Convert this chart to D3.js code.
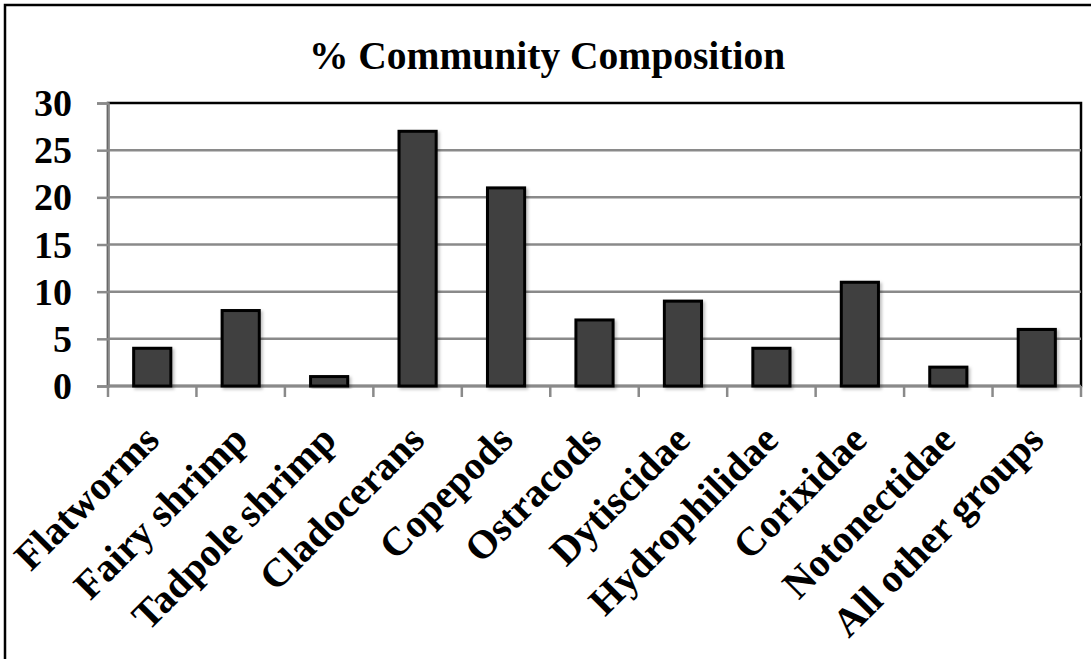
<!DOCTYPE html>
<html>
<head>
<meta charset="utf-8">
<script src="https://cdn.jsdelivr.net/npm/d3@7"></script>
<style>
  body { margin: 0; background: #fff; }
  svg { display: block; }
  text { font-family: "Liberation Serif", "Times New Roman", serif; font-weight: bold; fill: #000; }
</style>
</head>
<body>
<svg id="chart" width="1091" height="659"></svg>
<script>
// Chart data
const categories = ['Flatworms', 'Fairy shrimp', 'Tadpole shrimp', 'Cladocerans', 'Copepods',
  'Ostracods', 'Dytiscidae', 'Hydrophilidae', 'Corixidae', 'Notonectidae', 'All other groups'];
const percents = [4, 8, 1, 27, 21, 7, 9, 4, 11, 2, 6];
const yTicks = [0, 5, 10, 15, 20, 25, 30];
const chartTitle = '% Community Composition';

const width = 1091, height = 659;
const margin = { top: 103, right: 10, bottom: 273, left: 108 };

const svg = d3.select('#chart');

// outer frame (only left/top edges visible in the picture)
svg.append('rect')
  .attr('x', 5).attr('y', 5)
  .attr('width', 1200).attr('height', 800)
  .attr('fill', '#fff')
  .attr('stroke', '#000')
  .attr('stroke-width', 2.5);

const x = d3.scaleBand()
  .domain(categories)
  .range([margin.left, width - margin.right])
  .paddingInner(0.58)
  .paddingOuter(0.29);

const y = d3.scaleLinear()
  .domain([0, 30])
  .range([height - margin.bottom, margin.top]);

// shadow for bars
const defs = svg.append('defs');
defs.append('filter')
  .attr('id', 'shadow')
  .attr('x', '-20%').attr('y', '-20%').attr('width', '150%').attr('height', '150%')
  .append('feDropShadow')
  .attr('dx', 2).attr('dy', 2).attr('stdDeviation', 1.5)
  .attr('flood-color', '#000').attr('flood-opacity', 0.25);

// plot area border (black top/right)
svg.append('rect')
  .attr('x', margin.left).attr('y', margin.top)
  .attr('width', width - margin.right - margin.left)
  .attr('height', y(0) - margin.top)
  .attr('fill', 'none')
  .attr('stroke', '#000')
  .attr('stroke-width', 2.5);

// gridlines
svg.append('g')
  .selectAll('line')
  .data(yTicks.filter(d => d > 0 && d < 30))
  .enter()
  .append('line')
  .attr('x1', margin.left)
  .attr('x2', width - margin.right)
  .attr('y1', d => y(d))
  .attr('y2', d => y(d))
  .attr('stroke', '#8a8a8a')
  .attr('stroke-width', 2.5);

// y axis
const yAxis = svg.append('g')
  .attr('transform', `translate(${margin.left},0)`)
  .call(d3.axisLeft(y).tickValues(yTicks).tickSize(11).tickPadding(25));
yAxis.select('.domain').attr('stroke', '#8a8a8a').attr('stroke-width', 2.5);
yAxis.selectAll('.tick line').attr('stroke', '#8a8a8a').attr('stroke-width', 2.5);
yAxis.selectAll('.tick text')
  .attr('font-size', 38)
  .attr('font-family', '"Liberation Serif", serif')
  .attr('font-weight', 'bold')
  .attr('fill', '#000')
  .attr('dy', '0.33em');

// x axis: ticks at category boundaries
const xAxisY = y(0);
const boundaries = categories.map(c => x(c) - x.step() * x.paddingInner() / 2);
boundaries.push(width - margin.right);
svg.append('line')
  .attr('x1', margin.left).attr('x2', width - margin.right)
  .attr('y1', xAxisY).attr('y2', xAxisY)
  .attr('stroke', '#8a8a8a').attr('stroke-width', 2.5);
svg.append('g')
  .selectAll('line')
  .data(boundaries)
  .enter()
  .append('line')
  .attr('x1', d => d).attr('x2', d => d)
  .attr('y1', xAxisY).attr('y2', xAxisY + 11)
  .attr('stroke', '#8a8a8a')
  .attr('stroke-width', 2.5);

// bars
svg.append('g')
  .selectAll('rect')
  .data(percents)
  .enter()
  .append('rect')
  .attr('x', (d, i) => x(categories[i]))
  .attr('y', d => y(d))
  .attr('width', x.bandwidth())
  .attr('height', d => y(0) - y(d))
  .attr('fill', '#404040')
  .attr('stroke', '#000')
  .attr('stroke-width', 3)
  .attr('filter', 'url(#shadow)');

// rotated category labels
svg.append('g')
  .selectAll('text')
  .data(categories)
  .enter()
  .append('text')
  .attr('transform', d => `translate(${x(d) + x.bandwidth() / 2 + 9},${xAxisY + 56}) rotate(-45)`)
  .attr('text-anchor', 'end')
  .attr('font-size', 40)
  .text(d => d);

// title
svg.append('text')
  .attr('x', 547)
  .attr('y', 69)
  .attr('text-anchor', 'middle')
  .attr('font-size', 39.5)
  .text(chartTitle);
</script>
</body>
</html>
